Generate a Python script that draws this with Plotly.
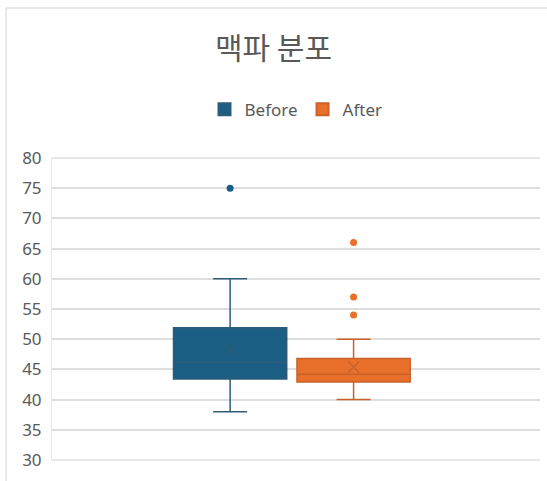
import plotly.graph_objects as go

series = ["Before", "After"]
positions = [0.365, 0.618]
q1 = [43.4, 42.9]
median = [46.2, 44.2]
q3 = [51.9, 46.8]
lower = [38.0, 40.0]
upper = [60.0, 50.0]
mean = [48.3, 45.4]
outliers = [[75.0], [54.0, 57.0, 66.0]]

fills = ["#1A5E84", "#E8702A"]
lines = ["#2E5C78", "#C8622A"]

fig = go.Figure()
for i, name in enumerate(series):
    fig.add_trace(go.Box(
        name=name, x=[positions[i]], q1=[q1[i]], median=[median[i]], q3=[q3[i]],
        lowerfence=[lower[i]], upperfence=[upper[i]],
        fillcolor=fills[i], line=dict(color=lines[i], width=1.5),
        width=0.232, whiskerwidth=0.3, boxpoints=False, showlegend=True,
    ))
    fig.add_trace(go.Scatter(
        x=[positions[i]] * len(outliers[i]), y=outliers[i], mode="markers",
        marker=dict(color=fills[i], size=7), showlegend=False, hoverinfo="y",
    ))
    fig.add_trace(go.Scatter(
        x=[positions[i]], y=[mean[i]], mode="markers",
        marker=dict(symbol="x-thin-open", color=lines[i], size=11, line=dict(width=1.2, color=lines[i])),
        showlegend=False, hoverinfo="y",
    ))

fig.update_layout(
    width=547, height=481,
    margin=dict(l=52, r=7, t=158, b=21),
    paper_bgcolor="white", plot_bgcolor="white",
    font=dict(family="Noto Sans, Noto Sans CJK KR, sans-serif", color="#595959"),
    title=dict(text="맥파 분포", x=0.5, xanchor="center", y=0.9, yanchor="middle",
               font=dict(size=30, color="#595959", family="Noto Sans CJK KR")),
    legend=dict(orientation="h", x=0.5, xanchor="center", y=1.16, yanchor="middle",
                font=dict(size=17, color="#595959"), itemsizing="constant"),
    xaxis=dict(range=[0, 1], showticklabels=False, showgrid=False, zeroline=False,
               showline=False, fixedrange=True),
    yaxis=dict(range=[30, 80], dtick=5, tick0=30, showgrid=True, gridcolor="#DEDEDE",
               gridwidth=1.5, zeroline=False, showline=True, linecolor="#E6E6E6",
               linewidth=1, ticks="", ticklabelstandoff=6,
               tickfont=dict(size=17, color="#595959")),
)
for yv in (0, 1):
    fig.add_shape(type="line", xref="paper", yref="paper", x0=0, x1=1, y0=yv, y1=yv,
                  line=dict(color="#DEDEDE", width=1.5), layer="below")
# chart border (top and left)
fig.add_shape(type="line", xref="paper", yref="paper", x0=-0.094, x1=1.02, y0=1.497, y1=1.497,
              line=dict(color="#E3E3E3", width=1.5))
fig.add_shape(type="line", xref="paper", yref="paper", x0=-0.094, x1=-0.094, y0=-0.07, y1=1.497,
              line=dict(color="#E3E3E3", width=1.5))

fig.write_html("out.html")
